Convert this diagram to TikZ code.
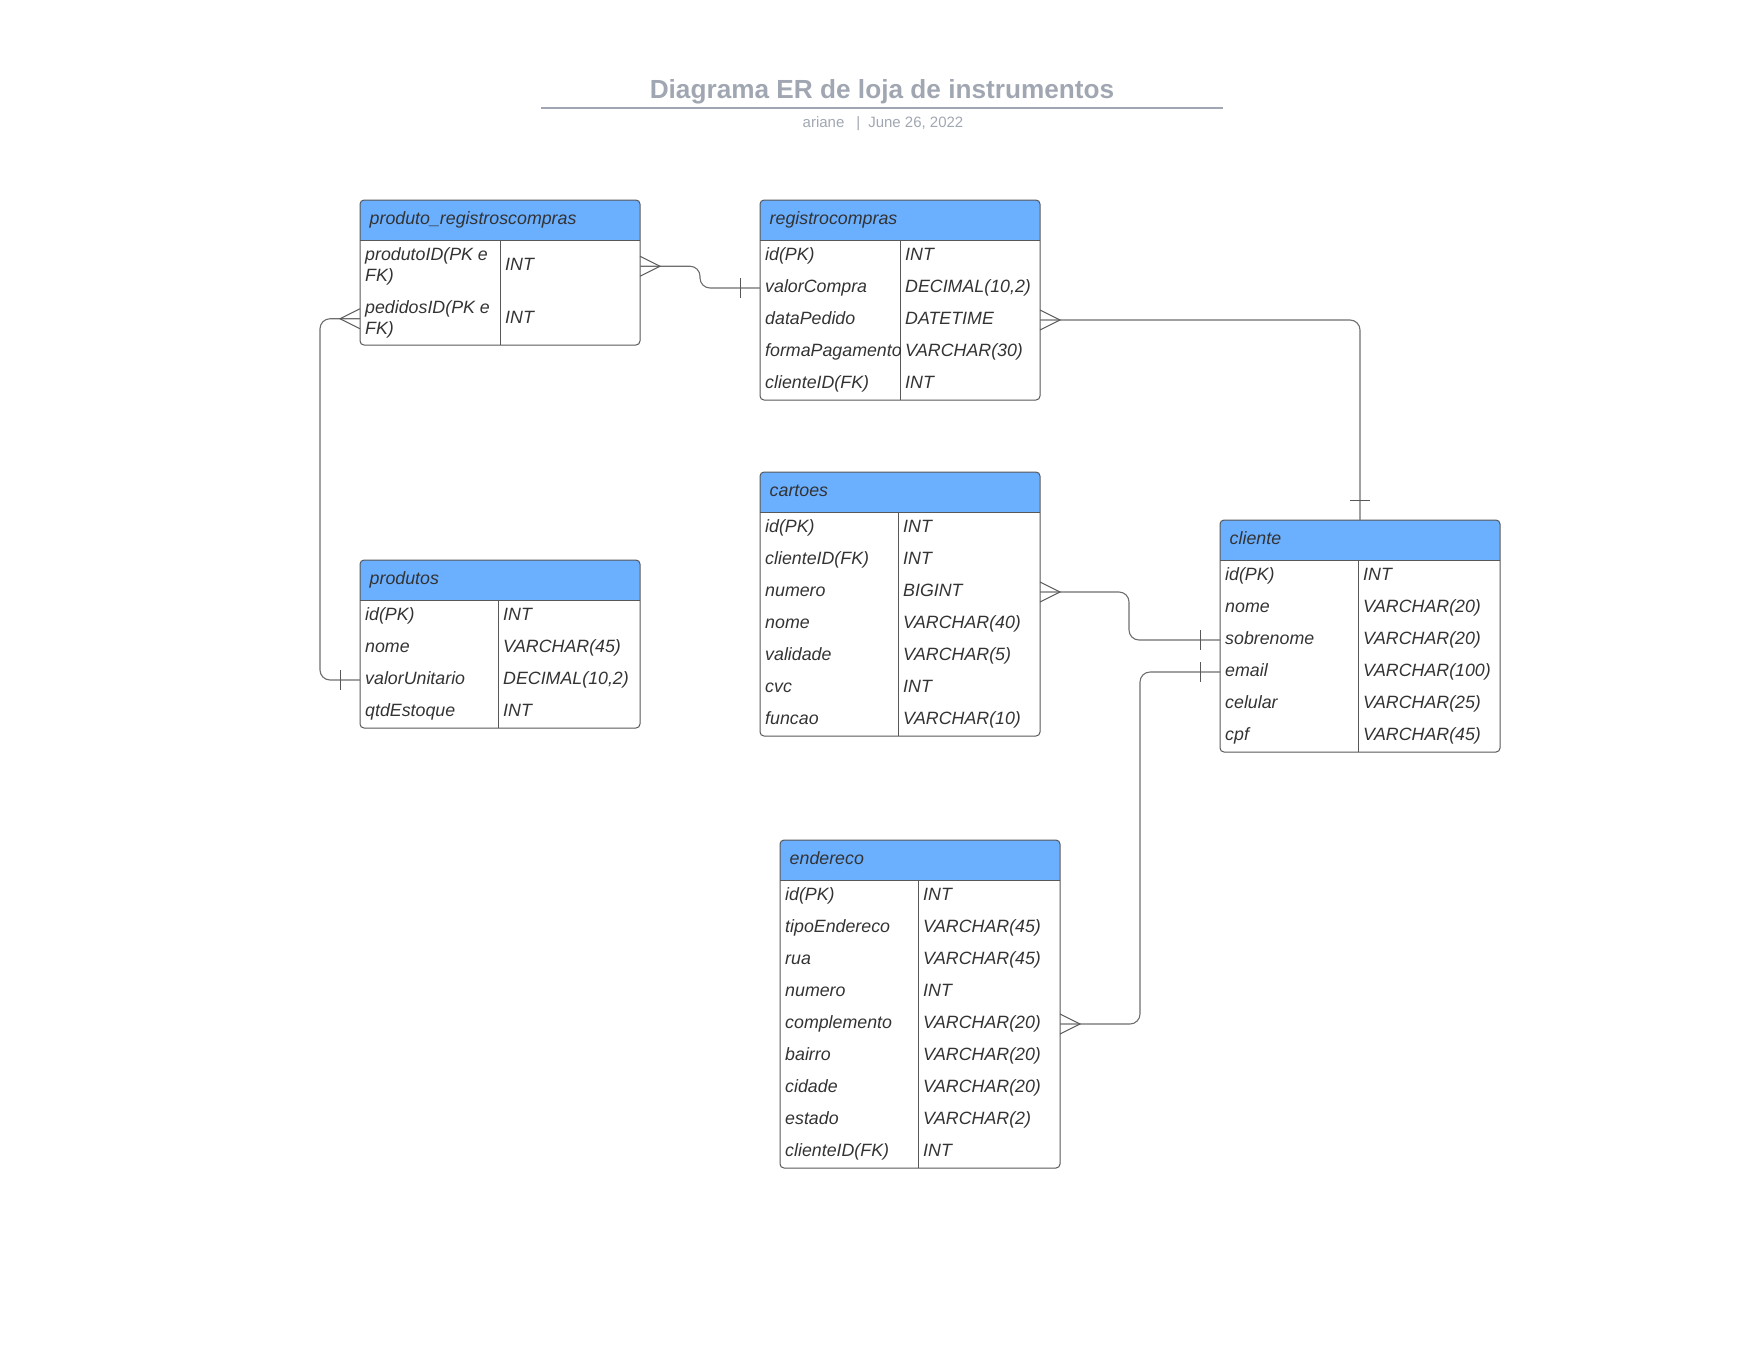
\documentclass[tikz,border=0pt]{standalone}
\usepackage{fontspec}
\setmainfont{Liberation Sans}
\usetikzlibrary{calc}

\definecolor{hdrblue}{RGB}{107,175,255}
\definecolor{edge}{RGB}{88,88,88}
\definecolor{wire}{RGB}{110,110,110}
\definecolor{ink}{RGB}{51,51,51}
\definecolor{titlegray}{RGB}{161,167,178}

\tikzset{
  tablebox/.style={draw=edge, line width=1pt, rounded corners=4pt, inner sep=0pt, outer sep=0pt},
  cell/.style={inner sep=0pt, text=ink, font=\itshape\fontsize{17.8}{20}\selectfont, anchor=base west},
  rule/.style={draw=edge, line width=1pt},
  rel/.style={draw=wire, line width=1.1pt, rounded corners=10pt},
  relend/.style={draw=wire!80!black, line width=1pt},
}

% name, left, top, width, divider offset, title, number of rows, rows (field/type)
\newcommand\ertable[8]{%
  \pgfmathsetmacro\tbh{40+32*#7}
  \begin{scope}
    \clip[rounded corners=4pt] (#2,#3) rectangle ++(#4,\tbh);
    \fill[hdrblue] (#2,#3) rectangle ++(#4,40);
  \end{scope}
  \draw[rule] (#2,#3+40) -- ++(#4,0);
  \draw[rule] (#2+#5,#3+40) -- (#2+#5,#3+\tbh);
  \node[tablebox, minimum width=#4, minimum height=\tbh, anchor=north west] (#1) at (#2,#3) {};
  \node[cell] (#1-h) at (#2+9.5,#3+24.3) {#6};
  \foreach \f/\t [count=\i] in {#8} {
    \coordinate (#1-\i) at (#2,#3+40+32*\i-16);
    \node[cell] (#1-\i-f) at (#2+5,#3+40+32*\i-11.5) {\f};
    \node[cell] (#1-\i-t) at (#2+#5+5,#3+40+32*\i-11.5) {\t};
  }
}

% crow's foot: point on a box edge, direction (+1 right, -1 left)
\newcommand\crowfoot[2]{\draw[relend] (#1) ++(0,-10) -- ++({#2*20},10) -- ++({-#2*20},10);}
% bar across a horizontal / vertical line
\newcommand\barvert[1]{\draw[relend] (#1) ++(0,-10) -- ++(0,20);}
\newcommand\barhorz[1]{\draw[relend] (#1) ++(-10,0) -- ++(20,0);}

\begin{document}
\begin{tikzpicture}[x=1pt, y=-1pt]
\useasboundingbox (0,0) rectangle (1760,1360);

% heading
\node[font=\bfseries\fontsize{26.2}{30}\selectfont, text=titlegray] (title) at (882,92) {Diagrama ER de loja de instrumentos};
\draw[titlegray, line width=1.6pt] (541,107.8) -- (1223,107.8);
\node[font=\fontsize{15}{17}\selectfont, text=titlegray] (sub) at (883,123.7) {ariane\hspace{12pt}|\hspace{8pt}June 26, 2022};

% produto_registroscompras (two-line rows)
\begin{scope}
  \clip[rounded corners=4pt] (360,200) rectangle ++(280,145);
  \fill[hdrblue] (360,200) rectangle ++(280,40);
\end{scope}
\draw[rule] (360,240) -- ++(280,0);
\draw[rule] (500,240) -- (500,345);
\node[tablebox, minimum width=280, minimum height=145, anchor=north west] (prc) at (360,200) {};
\node[cell] (prc-h) at (369.5,224.3) {produto\_registroscompras};
\coordinate (prc-1) at (360,266.25);
\coordinate (prc-2) at (360,318.75);
\node[cell] (prc-1-f) at (365,260.5) {produtoID(PK e};
\node[cell] (prc-1-g) at (365,281.8) {FK)};
\node[cell] (prc-1-t) at (505,270.75) {INT};
\node[cell] (prc-2-f) at (365,313) {pedidosID(PK e};
\node[cell] (prc-2-g) at (365,334.3) {FK)};
\node[cell] (prc-2-t) at (505,323.25) {INT};

\ertable{rc}{760}{200}{280}{140}{registrocompras}{5}{id(PK)/INT, valorCompra/{DECIMAL(10,2)}, dataPedido/DATETIME, formaPagamento/VARCHAR(30), clienteID(FK)/INT}

\ertable{ca}{760}{472}{280}{138}{cartoes}{7}{id(PK)/INT, clienteID(FK)/INT, numero/BIGINT, nome/VARCHAR(40), validade/VARCHAR(5), cvc/INT, funcao/VARCHAR(10)}

\ertable{pr}{360}{560}{280}{138}{produtos}{4}{id(PK)/INT, nome/VARCHAR(45), valorUnitario/{DECIMAL(10,2)}, qtdEstoque/INT}

\ertable{cli}{1220}{520}{280}{138}{cliente}{6}{id(PK)/INT, nome/VARCHAR(20), sobrenome/VARCHAR(20), email/VARCHAR(100), celular/VARCHAR(25), cpf/VARCHAR(45)}

\ertable{en}{780}{840}{280}{138}{endereco}{9}{id(PK)/INT, tipoEndereco/VARCHAR(45), rua/VARCHAR(45), numero/INT, complemento/VARCHAR(20), bairro/VARCHAR(20), cidade/VARCHAR(20), estado/VARCHAR(2), clienteID(FK)/INT}

% relationships
\draw[rel] (prc.east |- prc-1) -- ++(60,0) |- (rc.west |- rc-2);
\crowfoot{prc.east |- prc-1}{1}
\barvert{$(rc.west |- rc-2)+(-20,0)$}

\draw[rel] (prc.west |- prc-2) -- ++(-40,0) |- (pr.west |- pr-3);
\crowfoot{prc.west |- prc-2}{-1}
\barvert{$(pr.west |- pr-3)+(-20,0)$}

\draw[rel] (rc.east |- rc-3) -| (cli.north);
\crowfoot{rc.east |- rc-3}{1}
\barhorz{$(cli.north)+(0,-20)$}

\draw[rel] (ca.east |- ca-3) -- ++(89,0) |- (cli.west |- cli-3);
\crowfoot{ca.east |- ca-3}{1}
\barvert{$(cli.west |- cli-3)+(-20,0)$}

\draw[rel] (en.east |- en-5) -- ++(80,0) |- (cli.west |- cli-4);
\crowfoot{en.east |- en-5}{1}
\barvert{$(cli.west |- cli-4)+(-20,0)$}

\end{tikzpicture}
\end{document}
